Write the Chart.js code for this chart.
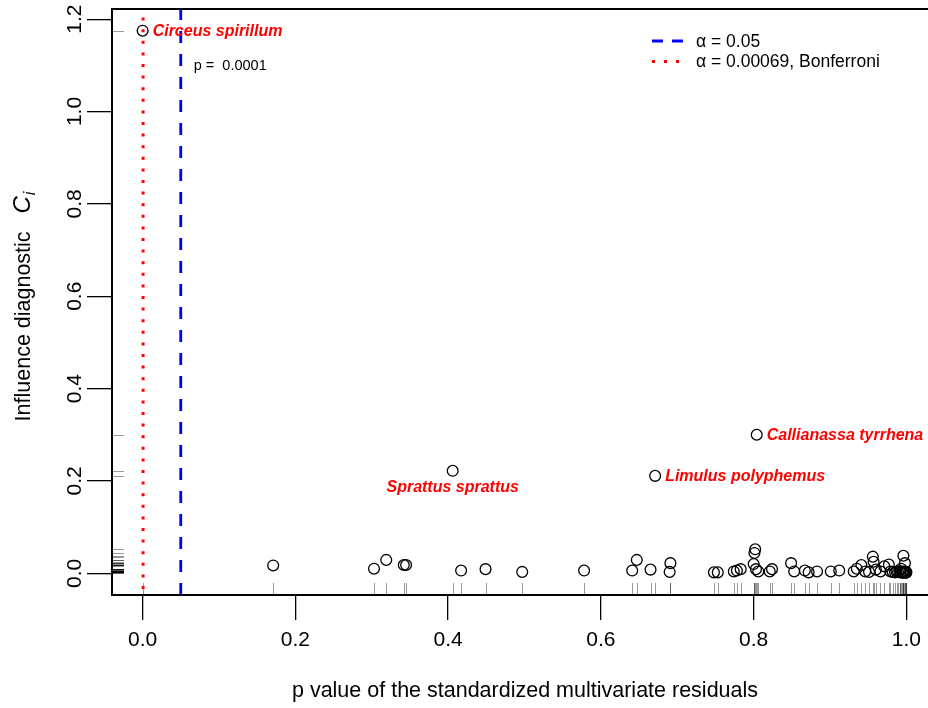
<!DOCTYPE html>
<html>
<head>
<meta charset="utf-8">
<script src="https://cdn.jsdelivr.net/npm/chart.js@4/dist/chart.umd.min.js"></script>
<style>
html, body { margin: 0; padding: 0; overflow: hidden; background: #fff; }
canvas { display: block; }
</style>
</head>
<body>
<canvas id="c" width="950" height="708"></canvas>
<script>
// p values of the standardized multivariate residuals (x) and influence diagnostic C_i (y)
const pValues = [
  0.171, 0.303, 0.319, 0.342, 0.345, 0.417, 0.449, 0.497, 0.578, 0.641,
  0.647, 0.665, 0.691, 0.690, 0.748, 0.753, 0.774, 0.778, 0.783, 0.802,
  0.801, 0.800, 0.803, 0.806, 0.821, 0.824, 0.849, 0.853, 0.867, 0.872,
  0.883, 0.901, 0.912, 0.931, 0.935, 0.941, 0.946, 0.951, 0.956, 0.957,
  0.960, 0.966, 0.971, 0.977, 0.979, 0.982, 0.985, 0.987, 0.989, 0.991,
  0.992, 0.993, 0.994, 0.995, 0.996, 0.996, 0.997, 0.998, 0.998, 0.999,
  0.999, 1.000
];
const influence = [
  0.017, 0.010, 0.029, 0.018, 0.018, 0.006, 0.009, 0.003, 0.006, 0.006,
  0.029, 0.008, 0.022, 0.003, 0.002, 0.002, 0.004, 0.006, 0.009, 0.052,
  0.044, 0.020, 0.009, 0.004, 0.004, 0.009, 0.022, 0.004, 0.006, 0.002,
  0.004, 0.004, 0.006, 0.004, 0.010, 0.018, 0.004, 0.003, 0.036, 0.025,
  0.008, 0.004, 0.015, 0.019, 0.004, 0.003, 0.002, 0.004, 0.003, 0.005,
  0.002, 0.010, 0.003, 0.001, 0.038, 0.004, 0.002, 0.022, 0.003, 0.001,
  0.004, 0.002
];

// Labelled species
const speciesNames = ["Circeus spirillum", "Sprattus sprattus", "Limulus polyphemus", "Callianassa tyrrhena"];
const speciesP = [0.0001, 0.406, 0.671, 0.804];
const speciesC = [1.175, 0.222, 0.211, 0.300];
const speciesLabelSide = ["right", "below", "right", "right"];

const xTicks = [0, 0.2, 0.4, 0.6, 0.8, 1.0];
const yTicks = [0, 0.2, 0.4, 0.6, 0.8, 1.0, 1.2];

const alphaNominal = 0.05;
const alphaBonferroni = 0.00069;
const pText = "p =  0.0001";

const legendItems = [
  { text: "\u03B1 = 0.05", color: "#0000ff", dash: [11, 9], width: 3 },
  { text: "\u03B1 = 0.00069, Bonferroni", color: "#ff0000", dash: [3, 9], width: 3 }
];

const xTitle = "p value of the standardized multivariate residuals";
const yTitle = "Influence diagnostic   ";

const FONT = '"Liberation Sans", Arial, Helvetica, sans-serif';

const allP = pValues.concat(speciesP);
const allC = influence.concat(speciesC);
const points = allP.map((p, i) => ({ x: p, y: allC[i] }));

const overlay = {
  id: 'overlay',
  beforeDatasetsDraw(chart) {
    const { ctx, chartArea: a, scales: { x, y } } = chart;
    ctx.save();
    // rugs along both axes
    ctx.strokeStyle = 'rgba(0,0,0,0.4)';
    ctx.lineWidth = 1;
    allP.forEach(p => {
      const px = Math.round(x.getPixelForValue(p)) + 0.5;
      ctx.beginPath(); ctx.moveTo(px, a.bottom); ctx.lineTo(px, a.bottom - 12); ctx.stroke();
    });
    allC.forEach(c => {
      const py = Math.round(y.getPixelForValue(c)) + 0.5;
      ctx.beginPath(); ctx.moveTo(a.left, py); ctx.lineTo(a.left + 12, py); ctx.stroke();
    });
    // significance thresholds
    const xb = x.getPixelForValue(alphaBonferroni);
    ctx.strokeStyle = '#ff0000'; ctx.lineWidth = 3; ctx.setLineDash([3, 8.6]);
    ctx.beginPath(); ctx.moveTo(xb, a.bottom - 6); ctx.lineTo(xb, a.top); ctx.stroke();
    const xa = x.getPixelForValue(alphaNominal);
    ctx.strokeStyle = '#0000ff'; ctx.lineWidth = 2.8; ctx.setLineDash([12, 11]);
    ctx.beginPath(); ctx.moveTo(xa, a.bottom); ctx.lineTo(xa, a.top); ctx.stroke();
    ctx.restore();
  },
  afterDraw(chart) {
    const { ctx, chartArea: a, scales: { x, y } } = chart;
    ctx.save();
    // frame
    ctx.strokeStyle = '#000'; ctx.lineWidth = 2;
    ctx.strokeRect(a.left, a.top, a.right - a.left, a.bottom - a.top);

    ctx.fillStyle = '#000';
    ctx.font = '21px ' + FONT;
    // x tick labels
    ctx.textAlign = 'center'; ctx.textBaseline = 'middle';
    xTicks.forEach(t => ctx.fillText(t.toFixed(1), x.getPixelForValue(t), 640));
    // y tick labels, parallel to the axis
    yTicks.forEach(t => {
      ctx.save();
      ctx.translate(75, y.getPixelForValue(t));
      ctx.rotate(-Math.PI / 2);
      ctx.fillText(t.toFixed(1), 0, 0);
      ctx.restore();
    });
    // axis titles
    ctx.font = '21.5px ' + FONT;
    ctx.fillText(xTitle, (a.left + x.getPixelForValue(1.04)) / 2 + 0.5, 691);

    ctx.save();
    ctx.translate(22, (a.top + a.bottom) / 2 + 4);
    ctx.rotate(-Math.PI / 2);
    ctx.textBaseline = 'alphabetic';
    const f1 = '21.5px ' + FONT, f2 = 'italic 24px ' + FONT, f3 = 'italic 16px ' + FONT;
    ctx.font = f1; const w1 = ctx.measureText(yTitle).width;
    ctx.font = f2; const w2 = ctx.measureText('C').width;
    ctx.font = f3; const w3 = ctx.measureText('i').width;
    let sx = -(w1 + w2 + w3 + 2) / 2;
    ctx.textAlign = 'left';
    ctx.font = f1; ctx.fillText(yTitle, sx, 8); sx += w1;
    ctx.font = f2; ctx.fillText('C', sx, 8); sx += w2 + 1;
    ctx.font = f3; ctx.fillText('i', sx, 13);
    ctx.restore();

    // species labels
    ctx.fillStyle = '#ff0000';
    ctx.font = 'italic bold 16px ' + FONT;
    speciesNames.forEach((n, i) => {
      const px = x.getPixelForValue(speciesP[i]);
      const py = y.getPixelForValue(speciesC[i]);
      if (speciesLabelSide[i] === 'below') {
        ctx.textAlign = 'center'; ctx.textBaseline = 'middle';
        ctx.fillText(n, px, py + 17);
      } else {
        ctx.textAlign = 'left'; ctx.textBaseline = 'middle';
        ctx.fillText(n, px + 10, py + 0.5);
      }
    });

    // p value of the outlier
    ctx.fillStyle = '#000';
    ctx.font = '14.5px ' + FONT;
    ctx.textAlign = 'left'; ctx.textBaseline = 'middle';
    ctx.fillText(pText, x.getPixelForValue(alphaNominal) + 13, 66);

    // legend
    ctx.font = '17.5px ' + FONT;
    legendItems.forEach((it, i) => {
      const ly = 41 + i * 20.5;
      ctx.strokeStyle = it.color; ctx.lineWidth = it.width; ctx.setLineDash(it.dash);
      ctx.beginPath(); ctx.moveTo(652, ly); ctx.lineTo(684, ly); ctx.stroke();
      ctx.setLineDash([]);
      ctx.fillStyle = '#000';
      ctx.fillText(it.text, 696, ly + 1);
    });
    ctx.restore();
  }
};

new Chart(document.getElementById('c'), {
  type: 'scatter',
  data: {
    datasets: [{
      data: points,
      pointStyle: 'circle',
      pointRadius: 5.4,
      pointBorderWidth: 1.3,
      pointBorderColor: '#000',
      pointBackgroundColor: 'rgba(0,0,0,0)',
      showLine: false
    }]
  },
  options: {
    responsive: false,
    devicePixelRatio: 1,
    animation: false,
    events: [],
    layout: { padding: { top: 9, right: 13, left: 0, bottom: 0 } },
    plugins: { legend: { display: false }, tooltip: { enabled: false } },
    scales: {
      x: {
        type: 'linear', min: -0.04, max: 1.04,
        afterBuildTicks: s => { s.ticks = xTicks.map(v => ({ value: v })); },
        afterFit: s => { s.height = 113; },
        ticks: { display: false },
        border: { display: false },
        grid: { drawOnChartArea: false, drawTicks: true, tickLength: 25, tickColor: '#000', lineWidth: 1.3 }
      },
      y: {
        type: 'linear', min: -0.047, max: 1.222,
        afterBuildTicks: s => { s.ticks = yTicks.map(v => ({ value: v })); },
        afterFit: s => { s.width = 112; },
        ticks: { display: false },
        border: { display: false },
        grid: { drawOnChartArea: false, drawTicks: true, tickLength: 25, tickColor: '#000', lineWidth: 1.3 }
      }
    }
  },
  plugins: [overlay]
});
</script>
</body>
</html>
